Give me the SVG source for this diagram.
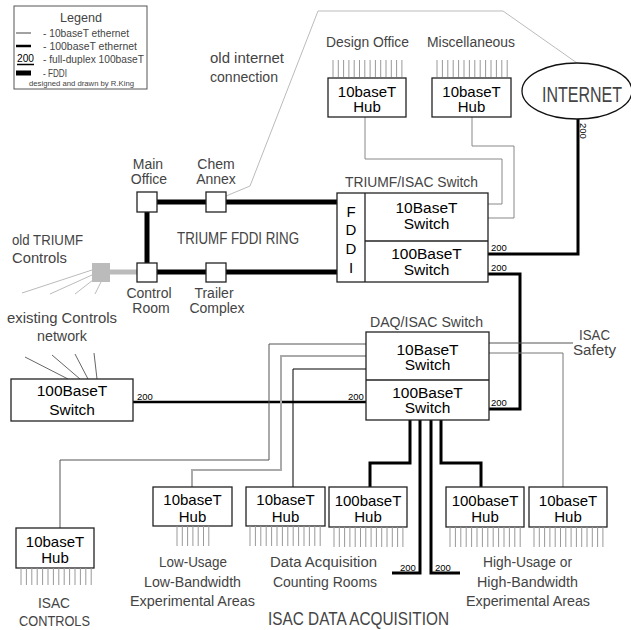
<svg xmlns="http://www.w3.org/2000/svg" width="631" height="630" viewBox="0 0 631 630">
<style>
text{font-family:"Liberation Sans",Arial,sans-serif}
.lbl{fill:#444;font-size:14px}
.bx{fill:#000;font-size:15px;text-anchor:middle}
.b16{font-size:15.5px}
.n{fill:#000;font-size:9.5px}
.box{fill:#fff;stroke:#222;stroke-width:1.3}
.port{fill:none;stroke:#999;stroke-width:1}
.c{fill:none;stroke-linejoin:miter}
.fddi{stroke:#000;stroke-width:5}
.e100{stroke:#000;stroke-width:3}
.e10{stroke:#888;stroke-width:1}
.dk{stroke:#555;stroke-width:1}
.lt{stroke:#bbb;stroke-width:1}
</style>
<rect width="631" height="630" fill="#fff"/>

<g id="legend">
<rect x="14" y="6" width="133" height="83" fill="#fff" stroke="#555" stroke-width="1"/>
<text class="lbl" x="60" y="22" style="font-size:13px" textLength="42" lengthAdjust="spacingAndGlyphs">Legend</text>
<line x1="16" y1="33" x2="31" y2="33" stroke="#444" stroke-width="1"/>
<line x1="16" y1="46" x2="31" y2="46" stroke="#000" stroke-width="2.5"/>
<line x1="16" y1="73" x2="31" y2="73" stroke="#000" stroke-width="5"/>
<text class="lbl" x="43" y="37" style="font-size:10.5px" textLength="86" lengthAdjust="spacingAndGlyphs">- 10baseT ethernet</text>
<text class="lbl" x="43" y="50" style="font-size:10.5px" textLength="94" lengthAdjust="spacingAndGlyphs">- 100baseT ethernet</text>
<text class="n" x="17" y="62" style="font-size:10px" textLength="17" lengthAdjust="spacingAndGlyphs">200</text>
<line x1="17" y1="64.5" x2="34" y2="64.5" stroke="#000" stroke-width="1.5"/>
<text class="lbl" x="43" y="63" style="font-size:10.5px" textLength="101" lengthAdjust="spacingAndGlyphs">- full-duplex 100baseT</text>
<text class="lbl" x="43" y="77" style="font-size:10.5px" textLength="24" lengthAdjust="spacingAndGlyphs">- FDDI</text>
<text class="lbl" x="29" y="86" style="font-size:7.5px" textLength="105" lengthAdjust="spacingAndGlyphs">designed and drawn by R.King</text>
</g>

<g id="connectors" class="c">
<polyline class="lt" fill="none" points="226,196 250,186 318,11 503,11 577,63"/>
<path class="e10" d="M365 117V159H502V204H488"/>
<path class="e10" d="M472 117V146H514V218H488"/>
<path class="e100" d="M578 119V254H488"/>
<path class="e100" d="M488 274H520V409H489"/>
<path class="fddi" d="M157 202H206M226 202H337M147 212V263M157 272H206M226 272H337"/>
<path stroke="#bbb" stroke-width="5" d="M110 272H137"/>
<path class="lt" d="M22 293L92 270M50 294L92 275M75 294L93 280M95 294L101 282"/>
<path stroke="#666" stroke-width="1" d="M25 357L68 379M52 355L80 379M75 354L88 379M94 353L97 379"/>
<path stroke="#000" stroke-width="2.5" d="M133 402H366"/>
<path class="dk" d="M366 344H269V460H60V528"/>
<path stroke="#aaa" stroke-width="2" d="M366 356H281V470H192V487"/>
<path stroke="#000" stroke-width="1" d="M366 369H293V487"/>
<path class="dk" d="M489 343H573"/>
<path stroke="#777" stroke-width="1" d="M489 353H563V487"/>
<path class="e100" d="M410 420V463H370V487M420 420V573H392M431 420V573H460M441 420V463H481V487"/>
<text class="n" x="0" y="0" transform="translate(580,123) rotate(90)">200</text>
<text class="n" x="491" y="251">200</text>
<text class="n" x="491" y="271">200</text>
<text class="n" x="491" y="406">200</text>
<text class="n" x="137" y="400">200</text>
<text class="n" x="348" y="400">200</text>
<text class="n" x="400" y="571">200</text>
<text class="n" x="435" y="571">200</text>
</g>

<g id="old-internet-label">
<text class="lbl" x="210" y="63" style="font-size:15px" textLength="74" lengthAdjust="spacingAndGlyphs">old internet</text>
<text class="lbl" x="210" y="82" style="font-size:15px" textLength="68" lengthAdjust="spacingAndGlyphs">connection</text>
</g>

<g id="hub-design-office">
<text class="lbl" x="326" y="47" textLength="83" lengthAdjust="spacingAndGlyphs">Design Office</text>
<path class="port" d="M333 60v17M338.3 60v17M343.6 60v17M348.9 60v17M354.2 60v17M359.5 60v17M364.8 60v17M370.1 60v17M375.4 60v17M380.7 60v17M386 60v17M391.3 60v17M396.6 60v17M401.9 60v17"/>
<rect class="box" x="328" y="78" width="78" height="39"/>
<text class="bx" x="367" y="97">10baseT</text>
<text class="bx" x="367" y="112">Hub</text>
</g>

<g id="hub-misc">
<text class="lbl" x="427" y="47" textLength="88" lengthAdjust="spacingAndGlyphs">Miscellaneous</text>
<path class="port" d="M437 60v17M442.4 60v17M447.8 60v17M453.2 60v17M458.6 60v17M464 60v17M469.4 60v17M474.8 60v17M480.2 60v17M485.6 60v17M491 60v17M496.4 60v17M501.8 60v17M507.2 60v17"/>
<rect class="box" x="432" y="78" width="79" height="39"/>
<text class="bx" x="471.5" y="97">10baseT</text>
<text class="bx" x="471.5" y="112">Hub</text>
</g>

<g id="internet">
<ellipse cx="577" cy="91" rx="55" ry="28" fill="#fff" stroke="#111" stroke-width="1.3"/>
<text class="lbl" x="542" y="102" style="font-size:22px" textLength="80" lengthAdjust="spacingAndGlyphs">INTERNET</text>
</g>

<g id="main-office">
<text class="lbl" x="148" y="169" text-anchor="middle">Main</text>
<text class="lbl" x="149" y="184" text-anchor="middle">Office</text>
<rect class="box" x="137" y="192" width="20" height="20"/>
</g>
<g id="chem-annex">
<text class="lbl" x="216" y="169" text-anchor="middle">Chem</text>
<text class="lbl" x="216" y="184" text-anchor="middle">Annex</text>
<rect class="box" x="206" y="192" width="20" height="20"/>
</g>
<g id="control-room">
<rect class="box" x="137" y="263" width="20" height="19"/>
<text class="lbl" x="149" y="298" text-anchor="middle">Control</text>
<text class="lbl" x="151" y="313" text-anchor="middle">Room</text>
</g>
<g id="trailer-complex">
<rect class="box" x="206" y="263" width="20" height="19"/>
<text class="lbl" x="214" y="298" text-anchor="middle">Trailer</text>
<text class="lbl" x="217" y="313" text-anchor="middle">Complex</text>
</g>
<g id="fddi-ring-label">
<text class="lbl" x="177" y="244" style="font-size:16px" textLength="122" lengthAdjust="spacingAndGlyphs">TRIUMF FDDI RING</text>
</g>

<g id="old-triumf-controls">
<text class="lbl" x="12" y="245" style="font-size:15px" textLength="71" lengthAdjust="spacingAndGlyphs">old TRIUMF</text>
<text class="lbl" x="12" y="263" style="font-size:15px" textLength="55" lengthAdjust="spacingAndGlyphs">Controls</text>
<rect x="92" y="263" width="18" height="19" fill="#bbb"/>
</g>

<g id="existing-controls">
<text class="lbl" x="7" y="323" style="font-size:15px" textLength="110" lengthAdjust="spacingAndGlyphs">existing Controls</text>
<text class="lbl" x="37" y="341" style="font-size:15px" textLength="50" lengthAdjust="spacingAndGlyphs">network</text>
</g>

<g id="triumf-isac-switch">
<text class="lbl" x="345" y="187" textLength="133" lengthAdjust="spacingAndGlyphs">TRIUMF/ISAC Switch</text>
<rect class="box" x="337" y="193" width="151" height="89"/>
<line x1="365" y1="193" x2="365" y2="282" stroke="#222" stroke-width="1.3"/>
<line x1="365" y1="241" x2="488" y2="241" stroke="#222" stroke-width="1.3"/>
<text class="bx" x="351" y="217">F</text>
<text class="bx" x="351" y="235">D</text>
<text class="bx" x="351" y="254">D</text>
<text class="bx" x="351" y="273">I</text>
<text class="bx b16" x="426.5" y="213">10BaseT</text>
<text class="bx b16" x="426.5" y="229">Switch</text>
<text class="bx b16" x="426.5" y="259">100BaseT</text>
<text class="bx b16" x="426.5" y="275">Switch</text>
</g>

<g id="daq-isac-switch">
<text class="lbl" x="370" y="327" textLength="113" lengthAdjust="spacingAndGlyphs">DAQ/ISAC Switch</text>
<rect class="box" x="366" y="332" width="123" height="88"/>
<line x1="366" y1="380" x2="489" y2="380" stroke="#222" stroke-width="1.3"/>
<text class="bx b16" x="427.5" y="355">10BaseT</text>
<text class="bx b16" x="427.5" y="370">Switch</text>
<text class="bx b16" x="427.5" y="398">100BaseT</text>
<text class="bx b16" x="427.5" y="413">Switch</text>
</g>

<g id="isac-safety">
<text class="lbl" x="579" y="340" textLength="31" lengthAdjust="spacingAndGlyphs">ISAC</text>
<text class="lbl" x="573" y="355" textLength="43" lengthAdjust="spacingAndGlyphs">Safety</text>
</g>

<g id="left-100baset-switch">
<rect class="box" x="11" y="379" width="122" height="42"/>
<text class="bx b16" x="72" y="396">100BaseT</text>
<text class="bx b16" x="72" y="415">Switch</text>
</g>

<g id="hub-isac-controls">
<rect class="box" x="16" y="528" width="78" height="40"/>
<text class="bx" x="55" y="547">10baseT</text>
<text class="bx" x="55" y="563">Hub</text>
<path class="port" d="M21 568v17M26.4 568v17M31.8 568v17M37.2 568v17M42.6 568v17M48 568v17M53.4 568v17M58.8 568v17M64.2 568v17M69.6 568v17M75 568v17M80.4 568v17M85.8 568v17M91.2 568v17"/>
<text class="lbl" x="38" y="608" style="font-size:15px" textLength="32" lengthAdjust="spacingAndGlyphs">ISAC</text>
<text class="lbl" x="19" y="626" style="font-size:15px" textLength="71" lengthAdjust="spacingAndGlyphs">CONTROLS</text>
</g>

<g id="hub-low-usage">
<rect class="box" x="153" y="487" width="79" height="39"/>
<text class="bx" x="192.5" y="505">10baseT</text>
<text class="bx" x="192.5" y="522">Hub</text>
<path class="port" d="M177 526v20M182.3 526v20M187.6 526v20M192.9 526v20M198.2 526v20M203.5 526v20M208.8 526v20"/>
<text class="lbl" x="159" y="567" textLength="68" lengthAdjust="spacingAndGlyphs">Low-Usage</text>
<text class="lbl" x="144" y="587" textLength="97" lengthAdjust="spacingAndGlyphs">Low-Bandwidth</text>
<text class="lbl" x="130" y="606" textLength="125" lengthAdjust="spacingAndGlyphs">Experimental Areas</text>
</g>

<g id="hub-daq-10">
<rect class="box" x="246" y="487" width="79" height="39"/>
<text class="bx" x="285.5" y="505">10baseT</text>
<text class="bx" x="285.5" y="522">Hub</text>
<path class="port" d="M250 526v20M255.4 526v20M260.8 526v20M266.2 526v20M271.6 526v20M277 526v20M282.4 526v20M287.8 526v20M293.2 526v20M298.6 526v20M304 526v20M309.4 526v20M314.8 526v20M320.2 526v20"/>
</g>

<g id="hub-daq-100">
<rect class="box" x="329" y="487" width="78" height="40"/>
<text class="bx" x="368" y="506">100baseT</text>
<text class="bx" x="368" y="522">Hub</text>
<path class="port" d="M334 527v20M339.3 527v20M344.6 527v20M349.9 527v20M355.2 527v20M360.5 527v20M365.8 527v20M371.1 527v20M376.4 527v20M381.7 527v20M387 527v20M392.3 527v20M397.6 527v20M402.9 527v20"/>
</g>

<g id="daq-label">
<text class="lbl" x="270" y="567" textLength="107" lengthAdjust="spacingAndGlyphs">Data Acquisition</text>
<text class="lbl" x="273" y="587" textLength="104" lengthAdjust="spacingAndGlyphs">Counting Rooms</text>
</g>

<g id="hub-high-100">
<rect class="box" x="446" y="487" width="78" height="40"/>
<text class="bx" x="485" y="506">100baseT</text>
<text class="bx" x="485" y="522">Hub</text>
<path class="port" d="M450 527v20M455.4 527v20M460.8 527v20M466.2 527v20M471.6 527v20M477 527v20M482.4 527v20M487.8 527v20M493.2 527v20M498.6 527v20M504 527v20M509.4 527v20M514.8 527v20M520.2 527v20"/>
</g>

<g id="hub-high-10">
<rect class="box" x="529" y="487" width="78" height="40"/>
<text class="bx" x="568" y="506">10baseT</text>
<text class="bx" x="568" y="522">Hub</text>
<path class="port" d="M534 527v20M539.3 527v20M544.6 527v20M549.9 527v20M555.2 527v20M560.5 527v20M565.8 527v20M571.1 527v20M576.4 527v20M581.7 527v20M587 527v20M592.3 527v20M597.6 527v20M602.9 527v20"/>
</g>

<g id="high-usage-label">
<text class="lbl" x="483" y="567" textLength="89" lengthAdjust="spacingAndGlyphs">High-Usage or</text>
<text class="lbl" x="477" y="587" textLength="101" lengthAdjust="spacingAndGlyphs">High-Bandwidth</text>
<text class="lbl" x="466" y="606" textLength="124" lengthAdjust="spacingAndGlyphs">Experimental Areas</text>
</g>

<g id="title">
<text class="lbl" x="268" y="625" style="font-size:18px" textLength="181" lengthAdjust="spacingAndGlyphs">ISAC DATA ACQUISITION</text>
</g>
</svg>
